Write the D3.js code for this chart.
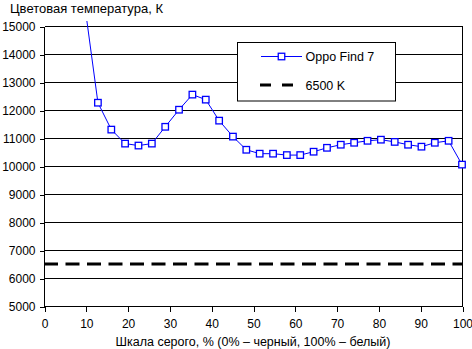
<!DOCTYPE html>
<html>
<head>
<meta charset="utf-8">
<script src="https://cdn.jsdelivr.net/npm/d3@7"></script>
<style>
html,body{margin:0;padding:0;background:#fff;}
svg{display:block;font-family:"Liberation Sans",Arial,sans-serif;}
</style>
</head>
<body>
<svg id="chart" width="472" height="349"></svg>
<script>
// Data
const grayPercent = [9.7, 12.9, 16.1, 19.4, 22.6, 25.8, 29.0, 32.3, 35.5, 38.7, 41.9, 45.2, 48.4, 51.6, 54.8, 58.1, 61.3, 64.5, 67.7, 71.0, 74.2, 77.4, 80.6, 83.9, 87.1, 90.3, 93.5, 96.8, 100];
const colorTemp = [15800, 12260, 11300, 10800, 10730, 10800, 11400, 12010, 12550, 12370, 11620, 11050, 10580, 10440, 10440, 10390, 10390, 10510, 10650, 10760, 10830, 10900, 10940, 10860, 10760, 10690, 10830, 10900, 10050];
const referenceTemp = 6500;
const xTicks = [0, 10, 20, 30, 40, 50, 60, 70, 80, 90, 100];
const yTicks = [5000, 6000, 7000, 8000, 9000, 10000, 11000, 12000, 13000, 14000, 15000];
const seriesName = "Oppo Find 7";
const refName = "6500 K";
const yTitle = "Цветовая температура, К";
const xTitle = "Шкала серого, % (0% – черный, 100% – белый)";

const svg = d3.select("#chart");
const x = d3.scaleLinear().domain([0, 100]).range([44, 462]);
const y = d3.scaleLinear().domain([5000, 15000]).range([306, 26]);

const blue = "#0000ff";

// Grid lines
const g = svg.append("g").attr("transform", "translate(0.5,0.5)");
g.selectAll("line.grid").data(yTicks).enter().append("line")
  .attr("x1", x(0)).attr("x2", x(100))
  .attr("y1", d => y(d)).attr("y2", d => y(d))
  .attr("stroke", "#000").attr("stroke-width", 1).attr("shape-rendering", "crispEdges");

// Right border
g.append("line").attr("x1", x(100)).attr("x2", x(100)).attr("y1", y(15000)).attr("y2", y(5000))
  .attr("stroke", "#000").attr("shape-rendering", "crispEdges");

// Axes
const yAxis = d3.axisLeft(y).tickValues(yTicks).tickSize(5).tickPadding(4).tickFormat(d3.format("d"));
const yg = g.append("g").attr("transform", `translate(${x(0)},0)`).call(yAxis);
const xAxis = d3.axisBottom(x).tickValues(xTicks).tickSize(5).tickPadding(8).tickFormat(d3.format("d"));
const xg = g.append("g").attr("transform", `translate(0,${y(5000)})`).call(xAxis);
[yg, xg].forEach(a => {
  a.select(".domain").attr("stroke", "#000").attr("shape-rendering", "crispEdges");
  a.selectAll(".tick line").attr("stroke", "#000").attr("shape-rendering", "crispEdges");
  a.selectAll(".tick text").attr("fill", "#000").attr("font-size", 12)
    .attr("font-family", "\"Liberation Sans\",Arial,sans-serif");
});
yg.select(".domain").attr("d", `M0,${y(15000)}V${y(5000)}`);
xg.select(".domain").attr("d", `M${x(0)},0H${x(100)}`);

// Clip
svg.append("clipPath").attr("id", "plotclip").append("rect")
  .attr("x", x(0)).attr("y", 21).attr("width", x(100) - x(0) + 4).attr("height", y(5000) - 21 + 4);

const plot = svg.append("g").attr("clip-path", "url(#plotclip)");

// Reference dashed line
plot.append("line")
  .attr("x1", x(0)).attr("x2", x(100))
  .attr("y1", y(referenceTemp)).attr("y2", y(referenceTemp))
  .attr("stroke", "#000").attr("stroke-width", 3).attr("stroke-dasharray", "14,7.5");

// Series line
const pts = grayPercent.map((p, i) => [p, colorTemp[i]]);
plot.append("path").datum(pts)
  .attr("d", d3.line().x(d => x(d[0])).y(d => y(d[1])))
  .attr("fill", "none").attr("stroke", blue).attr("stroke-width", 1);

// Markers
plot.selectAll("rect.m").data(pts).enter().append("rect")
  .attr("x", d => x(d[0]) - 3.25).attr("y", d => y(d[1]) - 3.25)
  .attr("width", 6.5).attr("height", 6.5)
  .attr("fill", "#fff").attr("stroke", blue).attr("stroke-width", 1.3);

// Legend
const lg = svg.append("g");
lg.append("rect").attr("x", 237.5).attr("y", 42.5).attr("width", 158).attr("height", 58.5)
  .attr("fill", "#fff").attr("stroke", "#000").attr("stroke-width", 1);
lg.append("line").attr("x1", 261).attr("x2", 302).attr("y1", 56.5).attr("y2", 56.5)
  .attr("stroke", blue).attr("stroke-width", 1);
lg.append("rect").attr("x", 281.5 - 3.25).attr("y", 56.5 - 3.25).attr("width", 6.5).attr("height", 6.5)
  .attr("fill", "#fff").attr("stroke", blue).attr("stroke-width", 1.3);
lg.append("text").attr("x", 305.5).attr("y", 61).attr("font-size", 12.5).text(seriesName);
lg.append("line").attr("x1", 260).attr("x2", 296).attr("y1", 85).attr("y2", 85)
  .attr("stroke", "#000").attr("stroke-width", 3).attr("stroke-dasharray", "11,11");
lg.append("text").attr("x", 305.5).attr("y", 90).attr("font-size", 12.5).text(refName);

// Titles
svg.append("text").attr("x", 10).attr("y", 12.5).attr("font-size", 13).text(yTitle);
svg.append("text").attr("x", (x(0) + x(100)) / 2).attr("y", 345.5).attr("text-anchor", "middle")
  .attr("font-size", 12.5).text(xTitle);
</script>
</body>
</html>
